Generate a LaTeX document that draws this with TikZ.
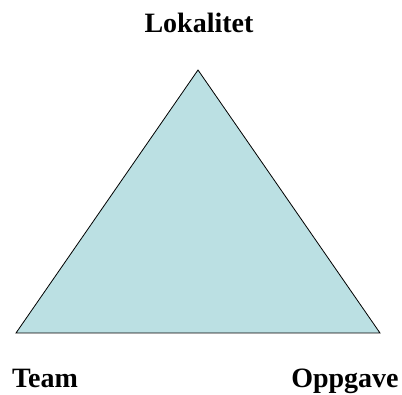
\documentclass[tikz,border=0pt]{standalone}
\usepackage{fontspec}
\setmainfont{Liberation Serif}
\usetikzlibrary{positioning}
\definecolor{paleteal}{HTML}{BBE0E3}
\tikzstyle{tri} = [draw=black, line width=0.8pt, fill=paleteal, line join=miter]
\tikzstyle{heading} = [font=\fontsize{28}{31}\selectfont\bfseries, inner sep=0pt, anchor=base]

\begin{document}
\begin{tikzpicture}[x=1pt, y=1pt]
    \useasboundingbox (0,0) rectangle (402,394);
    \coordinate (top) at (198,324);
    \coordinate (left) at (16,61);
    \coordinate (right) at (380,61);
    \draw [tri] (top) -- (left) -- (right) -- cycle;
    \node (lok) [heading] at (199,361) {Lokalitet};
    \node (team) [heading] at (45,6) {Team};
    \node (opp) [heading] at (345,6) {Oppgave};
\end{tikzpicture}
\end{document}
